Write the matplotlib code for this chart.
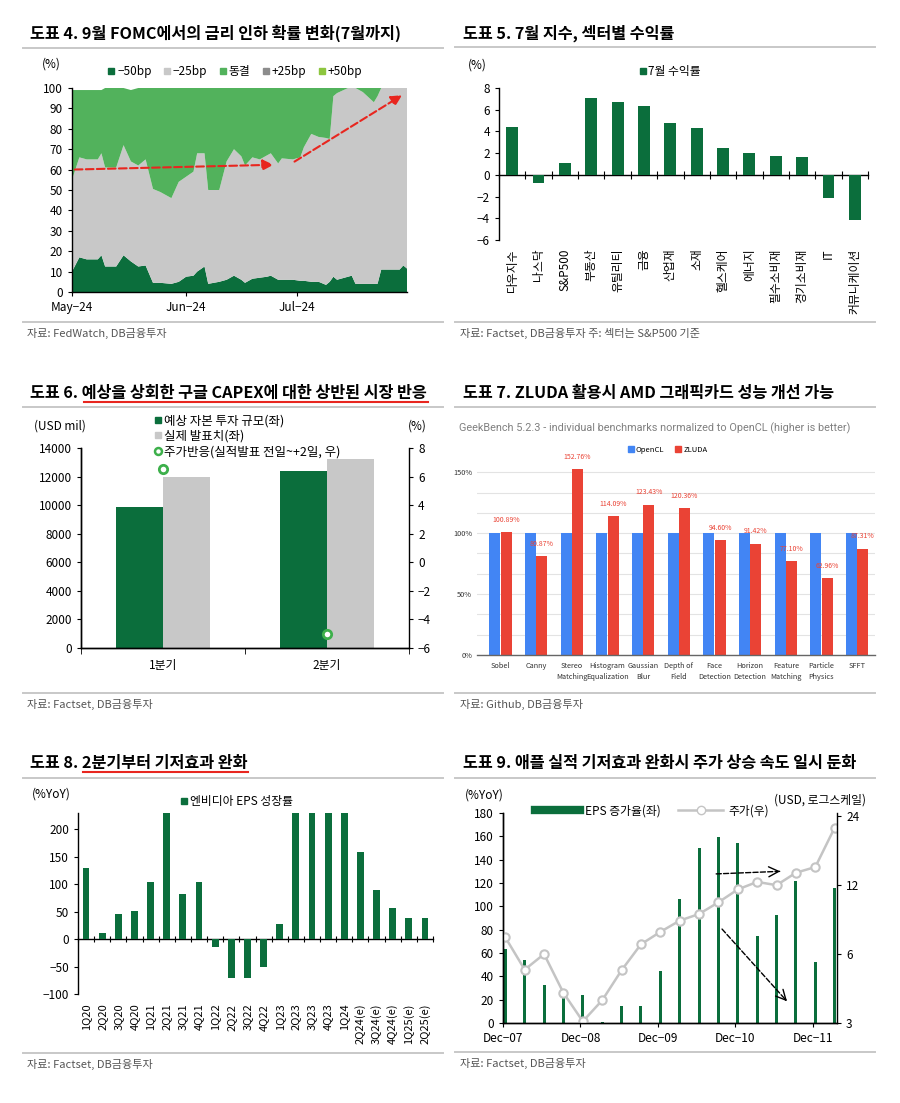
import matplotlib.pyplot as plt
import numpy as np
import pandas as pd
import matplotlib.dates as mdates
from matplotlib.lines import Line2D
from matplotlib.ticker import NullFormatter

plt.rcParams['font.family'] = ['Noto Sans CJK KR', 'DejaVu Sans']
plt.rcParams['axes.unicode_minus'] = True
plt.rcParams['axes.linewidth'] = 1.0

GREEN = '#0b6e3c'
MGREEN = '#52b25c'
GREY = '#c8c8c8'
RED = '#e8261f'

# ---- 도표 4 : FOMC probabilities (days after 2024-05-01)
fomc_day = [0, 2, 4, 7, 8, 9, 12, 14, 16, 18, 20, 22, 24, 27, 29, 31, 33, 34, 36, 37,
            40, 42, 44, 46, 47, 49, 51, 53, 54, 56, 57, 60, 62, 63, 65, 67, 69, 70, 71,
            72, 75, 76, 77, 79, 82, 83, 84, 87, 89, 90, 91]
cut50 = [10, 17, 16, 16, 18, 12.5, 12.5, 18, 15, 12.5, 13, 4.5, 4.5, 4, 5, 7.5, 8, 10, 12.5, 4,
         5, 6, 8, 6, 4.5, 6.5, 7, 7.5, 8, 6, 6, 6, 5.5, 5.5, 5, 5, 3.5, 5, 7.5,
         6, 7.5, 8, 4, 4, 4, 4, 11, 11, 11, 13, 11.5]
cut25 = [45, 49, 49, 49, 50, 48.5, 48.5, 54, 49, 49.5, 52, 46, 44.5, 42, 49, 49, 51, 58, 55.5, 46,
         45, 58, 62, 60.5, 57.5, 59.5, 58, 59.5, 60, 57, 59.5, 59, 60.5, 65.5, 72.5, 71, 72, 70, 88.5,
         91.5, 92.5, 92, 96, 94, 89, 92, 89, 89, 89, 87, 88.5]
hold = [44, 33, 34, 34, 31, 39, 39, 28, 35, 38, 35, 49.5, 51, 54, 46, 43.5, 41, 32, 32, 50,
        50, 36, 30, 33.5, 38, 34, 35, 33, 32, 37, 34.5, 35, 34, 29, 22.5, 24, 24.5, 25, 4,
        2.5, 0, 0, 0, 2, 7, 4, 0, 0, 0, 0, 0]
hike25 = [0] * len(fomc_day)
hike50 = [0] * len(fomc_day)
fomc_labels = ['\u221250bp', '\u221225bp', '동결', '+25bp', '+50bp']

# ---- 도표 5 : July returns
sectors = ['다우지수', '나스닥', 'S&P500', '부동산', '유틸리티', '금융', '산업재', '소재',
           '헬스케어', '에너지', '필수소비재', '경기소비재', 'IT', '커뮤니케이션']
sector_ret = [4.4, -0.75, 1.1, 7.1, 6.7, 6.3, 4.8, 4.3, 2.45, 2.0, 1.75, 1.65, -2.1, -4.2]

# ---- 도표 6 : Google CAPEX
quarters = ['1분기', '2분기']
capex_est = [9870, 12400]
capex_act = [12000, 13230]
reaction = [6.5, -5.0]

# ---- 도표 7 : GeekBench
benches = ['Sobel', 'Canny', 'Stereo\nMatching', 'Histogram\nEqualization', 'Gaussian\nBlur',
           'Depth of\nField', 'Face\nDetection', 'Horizon\nDetection', 'Feature\nMatching',
           'Particle\nPhysics', 'SFFT']
opencl = [100] * 11
zluda = [100.89, 80.87, 152.76, 114.09, 123.43, 120.36, 94.60, 91.42, 77.10, 62.96, 87.31]

# ---- 도표 8 : NVIDIA EPS growth
nv_q = ['1Q20', '2Q20', '3Q20', '4Q20', '1Q21', '2Q21', '3Q21', '4Q21', '1Q22', '2Q22', '3Q22',
        '4Q22', '1Q23', '2Q23', '3Q23', '4Q23', '1Q24', '2Q24(e)', '3Q24(e)', '4Q24(e)',
        '1Q25(e)', '2Q25(e)']
nv_eps = [130, 11, 45, 51, 104, 230, 83, 104, -15, -71.5, -71.5, -51.5, 28.5, 230, 230, 230,
          230, 158, 90, 56, 39, 38]

# ---- 도표 9 : Apple
apple_q = ['4Q07', '1Q08', '2Q08', '3Q08', '4Q08', '1Q09', '2Q09', '3Q09', '4Q09', '1Q10',
           '2Q10', '3Q10', '4Q10', '1Q11', '2Q11', '3Q11', '4Q11', '1Q12']
apple_eps = [63.4, 54.3, 32.9, 22.9, 24.3, 0.5, 14.9, 14.3, 44.9, 106, 150, 159.4, 154.6, 75,
             92.6, 122, 52, 116]
apple_px = [7.1, 5.13, 6.0, 4.06, 3.05, 3.77, 5.1, 6.62, 7.5, 8.4, 8.98, 10.1, 11.5, 12.4,
            12.0, 13.6, 14.4, 21.4]
apple_ticks = ['Dec\u221207', 'Dec\u221208', 'Dec\u221209', 'Dec\u221210', 'Dec\u221211']

W, H = 900, 1103
fig = plt.figure(figsize=(9, 11.03), dpi=100)
TFS = 11.7


def box(x0, y0, x1, y1):
    return fig.add_axes([x0 / W, 1 - y1 / H, (x1 - x0) / W, (y1 - y0) / H])


def txt(x, y, s, **kw):
    kw.setdefault('va', 'center')
    return fig.text(x / W, 1 - y / H, s, **kw)


def hline(x0, x1, y, color=GREY, lw=1.4):
    fig.add_artist(Line2D([x0 / W, x1 / W], [1 - y / H, 1 - y / H], color=color, lw=lw))


def header(x, y, title, sx0, sx1, ysep, ybot, src):
    txt(x, y, title, fontsize=TFS, fontweight='bold')
    hline(sx0, sx1, ysep)
    hline(sx0, sx1, ybot)
    txt(x - 3, ybot + 11, src, fontsize=8, color='#555555')


def sq(color):
    return Line2D([], [], marker='s', ls='', color=color, markersize=5)


def style(ax, fs=8.5):
    ax.tick_params(labelsize=fs, direction='out', length=3, color='black')
    ax.spines[['top', 'right']].set_visible(False)


# ================= 도표 4
header(30, 33, '도표 4. 9월 FOMC에서의 금리 인하 확률 변화(7월까지)', 23, 443, 48, 322,
       '자료: FedWatch, DB금융투자')
ax1 = box(72, 88, 407, 292)
dates = pd.Timestamp('2024-05-01') + pd.to_timedelta(fomc_day, unit='D')
cols = [GREEN, GREY, MGREEN, '#8c8c8c', '#8dc63f']
ax1.stackplot(dates, cut50, cut25, hold, hike25, hike50, colors=cols, lw=0)
ax1.set_ylim(0, 100)
ax1.set_xlim(dates[0], dates[-1])
ax1.set_yticks(range(0, 101, 10))
ax1.xaxis.set_major_locator(mdates.MonthLocator())
ax1.xaxis.set_major_formatter(mdates.DateFormatter('%b\u2212%y'))
style(ax1)
d0 = pd.Timestamp('2024-05-01')
ax1.annotate('', xy=(d0 + pd.Timedelta(days=55.5), 62.4), xytext=(d0, 60),
             arrowprops=dict(arrowstyle='-|>', ls='--', color=RED, lw=1.5, mutation_scale=16))
ax1.annotate('', xy=(d0 + pd.Timedelta(days=90.3), 97.2), xytext=(d0 + pd.Timedelta(days=59.8), 63.2),
             arrowprops=dict(arrowstyle='-|>', ls='--', color=RED, lw=1.5, mutation_scale=16))
txt(42, 64, '(%)', fontsize=8.5)
fig.legend([sq(c) for c in cols], fomc_labels, loc='center', bbox_to_anchor=(235 / W, 1 - 72 / H),
           ncol=5, frameon=False, fontsize=8.5, handlelength=0.6, handletextpad=0.2, columnspacing=1.0)

# ================= 도표 5
header(463, 33, '도표 5. 7월 지수, 섹터별 수익률', 455, 875, 47, 322,
       '자료: Factset, DB금융투자 주: 섹터는 S&P500 기준')
ax2 = box(499, 88, 868, 240)
xs = np.arange(len(sectors))
ax2.bar(xs, sector_ret, width=0.45, color=GREEN)
ax2.set_xlim(-0.5, len(sectors) - 0.5)
ax2.set_ylim(-6, 8)
ax2.set_yticks(range(-6, 9, 2))
style(ax2)
ax2.spines['bottom'].set_visible(False)
ax2.set_xticks(xs)
ax2.set_xticklabels(sectors, rotation=90, va='top')
ax2.tick_params(axis='x', length=0, pad=6)
sec2 = ax2.secondary_xaxis(6 / 14)
sec2.set_xticks(np.arange(-0.5, len(sectors), 1))
sec2.xaxis.set_major_formatter(NullFormatter())
sec2.tick_params(direction='inout', length=6)
txt(468, 65, '(%)', fontsize=8.5)
fig.legend([sq(GREEN)], ['7월 수익률'], loc='center', bbox_to_anchor=(670 / W, 1 - 72 / H),
           frameon=False, fontsize=8.5, handlelength=0.6, handletextpad=0.2)

# ================= 도표 6
txt(30, 393, '도표 6. 예상을 상회한 구글 CAPEX에 대한 상반된 시장 반응', fontsize=TFS, fontweight='bold')
hline(84, 428, 402, color=RED, lw=1.5)
hline(23, 443, 407)
hline(23, 443, 693)
txt(27, 704, '자료: Factset, DB금융투자', fontsize=8, color='#555555')
ax3 = box(81, 448, 409, 648)
qx = np.arange(len(quarters))
ax3.bar(qx - 0.142, capex_est, 0.284, color=GREEN, label='예상 자본 투자 규모(좌)')
ax3.bar(qx + 0.142, capex_act, 0.284, color=GREY, label='실제 발표치(좌)')
ax3.set_xlim(-0.5, 1.5)
ax3.set_ylim(0, 14000)
ax3.set_yticks(range(0, 14001, 2000))
style(ax3)
ax3.set_xticks(qx)
ax3.set_xticklabels(quarters)
ax3.tick_params(axis='x', length=0, pad=8)
ax3.set_xticks([-0.5, 0.5, 1.5], minor=True)
ax3.tick_params(axis='x', which='minor', length=4)
ax3r = ax3.twinx()
ax3r.plot(qx, reaction, 'o', ls='', mfc='white', mec='#3db04b', mew=2, ms=6,
          label='주가반응(실적발표 전일~+2일, 우)')
ax3r.set_ylim(-6, 8)
ax3r.set_yticks(range(-6, 9, 2))
ax3r.tick_params(labelsize=8.5, direction='out', length=3)
ax3r.spines['top'].set_visible(False)
txt(34, 426, '(USD mil)', fontsize=8.5)
txt(408, 426, '(%)', fontsize=8.5)
h3 = [sq(GREEN), sq(GREY),
      Line2D([], [], marker='o', ls='', mfc='white', mec='#3db04b', mew=1.8, ms=5)]
fig.legend(h3, ['예상 자본 투자 규모(좌)', '실제 발표치(좌)', '주가반응(실적발표 전일~+2일, 우)'],
           loc='upper left', bbox_to_anchor=(148 / W, 1 - 408 / H), frameon=False, fontsize=9,
           handlelength=0.6, handletextpad=0.2, labelspacing=0.2, borderpad=0)

# ================= 도표 7
header(463, 393, '도표 7. ZLUDA 활용시 AMD 그래픽카드 성능 개선 가능', 455, 875, 407, 693,
       '자료: Github, DB금융투자')
txt(459, 428, 'GeekBench 5.2.3 - individual benchmarks normalized to OpenCL (higher is better)',
    fontsize=7.8, color='#808080', family=['Roboto', 'Noto Sans CJK KR'])
ax4 = box(477, 454, 875, 655)
bx = np.arange(len(benches))
ax4.bar(bx - 0.16, opencl, 0.31, color='#4285f4')
ax4.bar(bx + 0.16, zluda, 0.31, color='#ea4335')
for xi, v in zip(bx, zluda):
    ax4.text(xi + 0.16, v + 10, f'{v:.2f}%', ha='center', va='center', fontsize=5, color='#ea4335')
ax4.set_xlim(-0.66, 10.5)
ax4.set_ylim(0, 165)
ax4.set_yticks([0, 50, 100, 150])
ax4.set_yticklabels(['0%', '50%', '100%', '150%'])
ax4.set_yticks(np.arange(1, 10) * 50 / 3, minor=True)
ax4.grid(axis='y', which='both', color='#e3e3e3', lw=0.8)
ax4.set_axisbelow(True)
ax4.spines[['top', 'right', 'left']].set_visible(False)
ax4.spines['bottom'].set_color('#666666')
ax4.set_xticks(bx)
ax4.set_xticklabels(benches, fontsize=5.3, color='#333333', linespacing=1.5)
ax4.tick_params(axis='both', which='both', length=0, labelsize=5.3, colors='#333333')
ax4.tick_params(axis='x', pad=5)
fig.legend([sq('#4285f4'), sq('#ea4335')], ['OpenCL', 'ZLUDA'], loc='center',
           bbox_to_anchor=(668 / W, 1 - 450 / H), ncol=2, frameon=False, fontsize=5.5,
           handlelength=0.6, handletextpad=0.4, columnspacing=1.5)

# ================= 도표 8
txt(30, 763, '도표 8. 2분기부터 기저효과 완화', fontsize=TFS, fontweight='bold')
hline(83, 248, 772, color=RED, lw=1.5)
hline(23, 443, 778)
hline(23, 443, 1053)
txt(27, 1064, '자료: Factset, DB금융투자', fontsize=8, color='#555555')
ax5 = box(78, 813, 433, 994)
nx = np.arange(len(nv_q))
ax5.bar(nx, nv_eps, width=0.42, color=GREEN)
ax5.set_xlim(-0.5, len(nv_q) - 0.5)
ax5.set_ylim(-100, 230)
ax5.set_yticks(range(-100, 201, 50))
style(ax5)
ax5.spines['bottom'].set_visible(False)
ax5.set_xticks(nx)
ax5.set_xticklabels(nv_q, rotation=90, va='top', fontsize=8)
ax5.tick_params(axis='x', length=0, pad=7)
sec5 = ax5.secondary_xaxis(100 / 330)
sec5.set_xticks(np.arange(-0.5, len(nv_q), 1))
sec5.xaxis.set_major_formatter(NullFormatter())
sec5.tick_params(direction='inout', length=5)
txt(32, 794, '(%YoY)', fontsize=8.5)
fig.legend([sq(GREEN)], ['엔비디아 EPS 성장률'], loc='center', bbox_to_anchor=(237 / W, 1 - 802 / H),
           frameon=False, fontsize=8.5, handlelength=0.6, handletextpad=0.2)

# ================= 도표 9
header(463, 763, '도표 9. 애플 실적 기저효과 완화시 주가 상승 속도 일시 둔화', 455, 875, 778, 1052,
       '자료: Factset, DB금융투자')
ax6 = box(503, 813, 837, 1023)
ax_x = np.arange(len(apple_q))
ax6.bar(ax_x, apple_eps, width=0.16, color=GREEN)
ax6.set_xlim(-0.12, len(apple_q) - 0.88)
ax6.set_ylim(0, 180)
ax6.set_yticks(range(0, 181, 20))
style(ax6)
ax6.set_xticks(np.arange(0, len(apple_q), 4) - 0.12)
ax6.set_xticklabels(apple_ticks)
ax6r = ax6.twinx()
ax6r.plot(ax_x, apple_px, color='#c4c4c4', lw=1.8, marker='o', mfc='white', mec='#c4c4c4',
          mew=1.5, ms=6)
ax6r.set_yscale('log')
ax6r.set_ylim(3, 24.8)
ax6r.set_yticks([3, 6, 12, 24])
ax6r.set_yticklabels(['3', '6', '12', '24'])
ax6r.minorticks_off()
ax6r.tick_params(labelsize=8.5, direction='out', length=3)
ax6r.spines['top'].set_visible(False)
for (x0, y0), (x1, y1) in [((10.74, 127.7), (14.19, 130.0)), ((11.09, 82.3), (14.54, 18.6))]:
    ax6.annotate('', xy=(x1, y1), xytext=(x0, y0),
                 arrowprops=dict(arrowstyle='-', ls='--', color='black', lw=1))
    ax6.annotate('', xy=(x1, y1), xytext=(x1 - 0.05 * (x1 - x0), y1 - 0.05 * (y1 - y0)),
                 arrowprops=dict(arrowstyle='->', color='black', lw=1, mutation_scale=18))
txt(465, 795, '(%YoY)', fontsize=8.5)
txt(866, 800, '(USD, 로그스케일)', fontsize=8.5, ha='right')
h6 = [Line2D([], [], color=GREEN, lw=6),
      Line2D([], [], color='#c4c4c4', lw=1.8, marker='o', mfc='white', mec='#c4c4c4', ms=6)]
fig.legend(h6, ['EPS 증가율(좌)', '주가(우)'], loc='center', bbox_to_anchor=(652 / W, 1 - 811 / H),
           ncol=2, frameon=False, fontsize=8.5, handlelength=3.8, handletextpad=0.4,
           columnspacing=1.5)

fig.savefig('out.png', dpi=100, facecolor='white')
